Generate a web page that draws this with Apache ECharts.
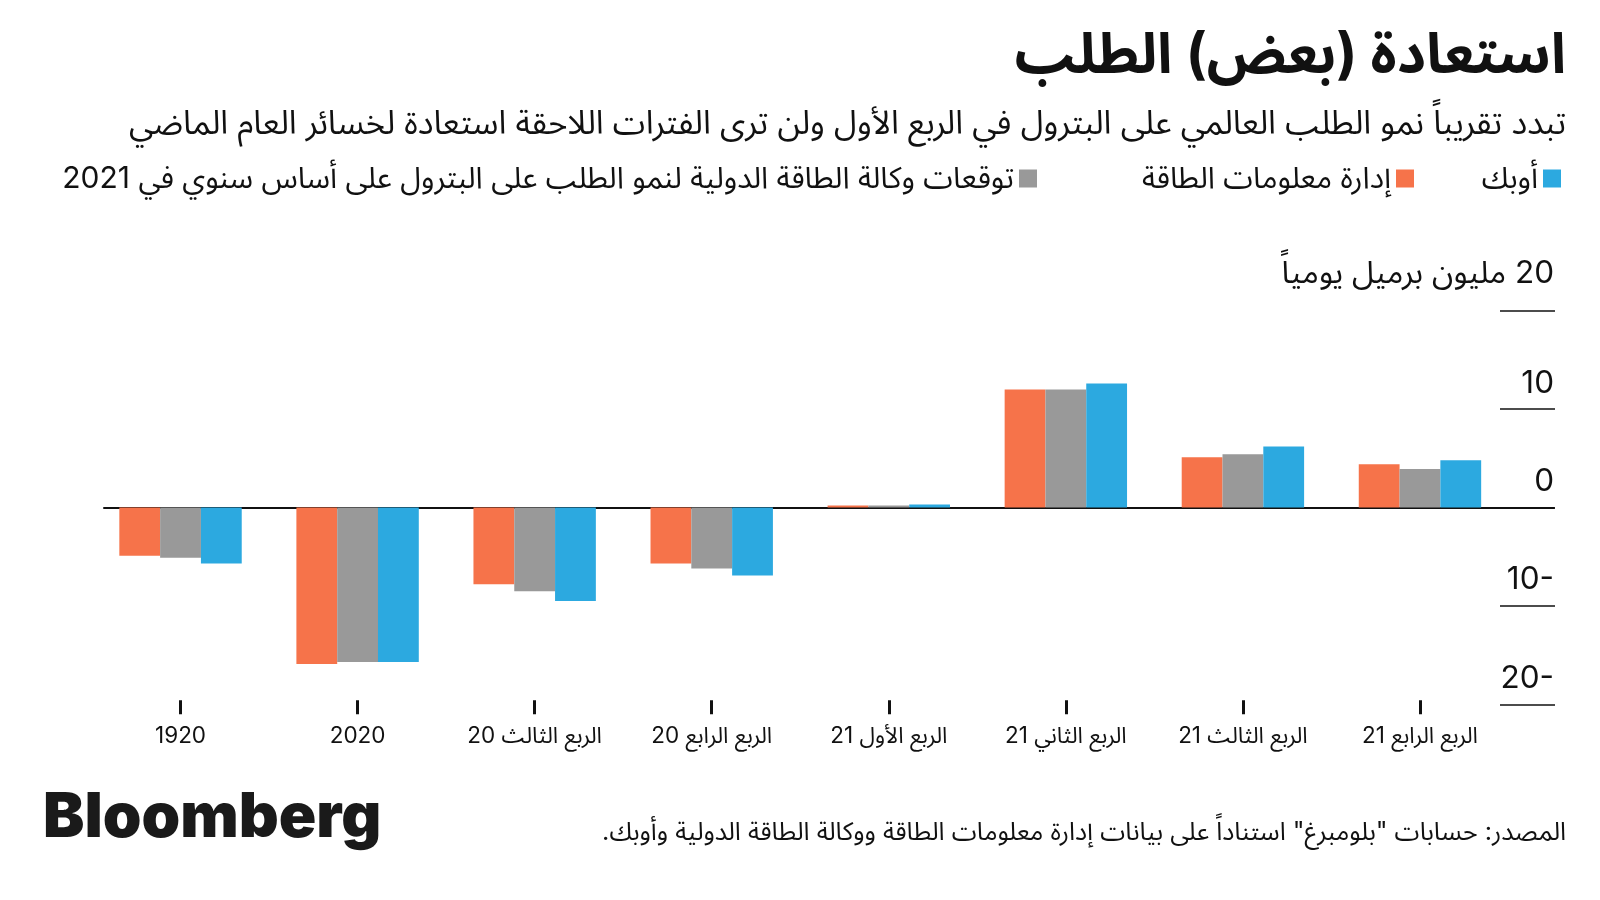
<!DOCTYPE html>
<html>
<head>
<meta charset="utf-8">
<script src="https://cdn.jsdelivr.net/npm/echarts@6/dist/echarts.min.js"></script>
<style>html,body{margin:0;padding:0;background:#fff}#c{width:1600px;height:900px}</style>
</head>
<body>
<div id="c"></div>
<script>
// ---- data ----
const categories = ['1920', '2020', 'الربع الثالث 20', 'الربع الرابع 20', 'الربع الأول 21', 'الربع الثاني 21', 'الربع الثالث 21', 'الربع الرابع 21'];
const eiaValues  = [-4.9, -15.9, -7.8, -5.7, 0.2, 12.0, 5.1, 4.4];
const ieaValues  = [-5.1, -15.7, -8.5, -6.2, 0.2, 12.0, 5.4, 3.9];
const opecValues = [-5.7, -15.7, -9.5, -6.9, 0.3, 12.6, 6.2, 4.8];
const seriesNames = ['إدارة معلومات الطاقة', 'توقعات وكالة الطاقة الدولية لنمو الطلب على البترول على أساس سنوي في 2021', 'أوبك'];
const yTickValues = [-20, -10, 0, 10, 20];
const yUnit = 'مليون برميل يومياً';
const titleText = 'استعادة (بعض) الطلب';
const subtitleText = 'تبدد تقريباً نمو الطلب العالمي على البترول في الربع الأول ولن ترى الفترات اللاحقة استعادة لخسائر العام الماضي';
const sourceText = 'المصدر: حسابات "بلومبرغ" استناداً على بيانات إدارة معلومات الطاقة ووكالة الطاقة الدولية وأوبك.';

// ---- helpers ----
const rtl = s => '\u202B' + s + '\u202C';
const F = "Inter, 'Noto Sans Arabic', 'DejaVu Sans', sans-serif";
const INK = '#111111';
const colors = ['#F6734A', '#999999', '#2CA9E0'];
const yMin = yTickValues[0], yMax = yTickValues[yTickValues.length - 1];
const yStep = yTickValues[1] - yTickValues[0];

const gTop = 310.7, gBottom = 900 - 704.3;
const legendText = {fontSize: 30, color: INK, fontFamily: F};

const chart = echarts.init(document.getElementById('c'), null, {renderer: 'canvas'});
const option = {
  animation: false,
  backgroundColor: '#ffffff',
  title: [
    {text: rtl(titleText), right: 34, top: 28, padding: 0,
     textStyle: {fontSize: 56, fontWeight: 'bold', color: INK, fontFamily: F}},
    {text: rtl(subtitleText), right: 34, top: 108, padding: 0,
     textStyle: {fontSize: 33, fontWeight: 'normal', color: INK, fontFamily: F}},
    {text: rtl(sourceText), right: 34, top: 820, padding: 0,
     textStyle: {fontSize: 25.3, fontWeight: 'normal', color: INK, fontFamily: F}}
  ],
  legend: [
    {data: [seriesNames[2]], right: 39, top: 163.5, align: 'right', icon: 'rect', itemWidth: 18, itemHeight: 18, padding: 0,
     formatter: n => rtl(n), textStyle: legendText},
    {data: [seriesNames[0]], right: 186, top: 163.5, align: 'right', icon: 'rect', itemWidth: 18, itemHeight: 18, padding: 0,
     formatter: n => rtl(n), textStyle: legendText},
    {data: [seriesNames[1]], right: 563, top: 163.5, align: 'right', icon: 'rect', itemWidth: 18, itemHeight: 18, padding: 0,
     formatter: n => rtl(n), textStyle: legendText}
  ],
  grid: [
    {left: 92, right: 91.5, top: gTop, bottom: gBottom},
    {left: 1500, right: 45, top: gTop, bottom: gBottom},
    {left: 104, right: 46, top: gTop, bottom: gBottom}
  ],
  xAxis: [
    {gridIndex: 0, type: 'category', data: categories, position: 'bottom', offset: -4,
     axisLine: {show: false, onZero: false},
     axisTick: {show: true, alignWithLabel: true, length: 14, lineStyle: {color: INK, width: 3}},
     axisLabel: {margin: 24.5, fontSize: 22.5, color: INK, fontFamily: F, formatter: v => rtl(v)},
     splitLine: {show: false}},
    {gridIndex: 1, type: 'value', show: false},
    {gridIndex: 2, type: 'value', min: 0, max: 1,
     axisLine: {show: true, onZero: true, lineStyle: {color: INK, width: 2}},
     axisTick: {show: false}, axisLabel: {show: false}, splitLine: {show: false}}
  ],
  yAxis: [
    {gridIndex: 0, type: 'value', min: yMin, max: yMax, interval: yStep, show: false},
    {gridIndex: 1, type: 'value', min: yMin, max: yMax, interval: yStep, position: 'right',
     axisLine: {show: false}, axisTick: {show: false},
     splitLine: {show: true, lineStyle: {color: INK, width: 1.5}},
     axisLabel: {inside: true, margin: 1, align: 'right', verticalAlign: 'bottom', padding: [0, 0, 10, 0],
       fontSize: 31.5, color: INK, fontFamily: F,
       rich: {u: {fontSize: 31.5, color: INK, fontFamily: F, padding: [0, 0, 11, 0]}},
       formatter: v => v === yMax ? '{u|' + rtl(v + ' ' + yUnit) + '}' : (v < 0 ? Math.abs(v) + '-' : String(v))}},
    {gridIndex: 2, type: 'value', min: yMin, max: yMax, interval: yStep,
     axisLine: {show: false}, axisTick: {show: false}, axisLabel: {show: false}, splitLine: {show: false}}
  ],
  series: [
    {name: seriesNames[0], type: 'bar', xAxisIndex: 0, yAxisIndex: 0, data: eiaValues, barWidth: 40.8, barGap: '0%', itemStyle: {color: colors[0]}},
    {name: seriesNames[1], type: 'bar', xAxisIndex: 0, yAxisIndex: 0, data: ieaValues, barWidth: 40.8, barGap: '0%', itemStyle: {color: colors[1]}},
    {name: seriesNames[2], type: 'bar', xAxisIndex: 0, yAxisIndex: 0, data: opecValues, barWidth: 40.8, barGap: '0%', itemStyle: {color: colors[2]}}
  ],
  graphic: [
    {type: 'text', left: 43, top: 787, style: {text: 'Bloomberg', font: "900 62px Inter, 'Liberation Sans', sans-serif", fill: '#1a1a1a'}}
  ]
};
chart.setOption(option);
</script>
</body>
</html>
